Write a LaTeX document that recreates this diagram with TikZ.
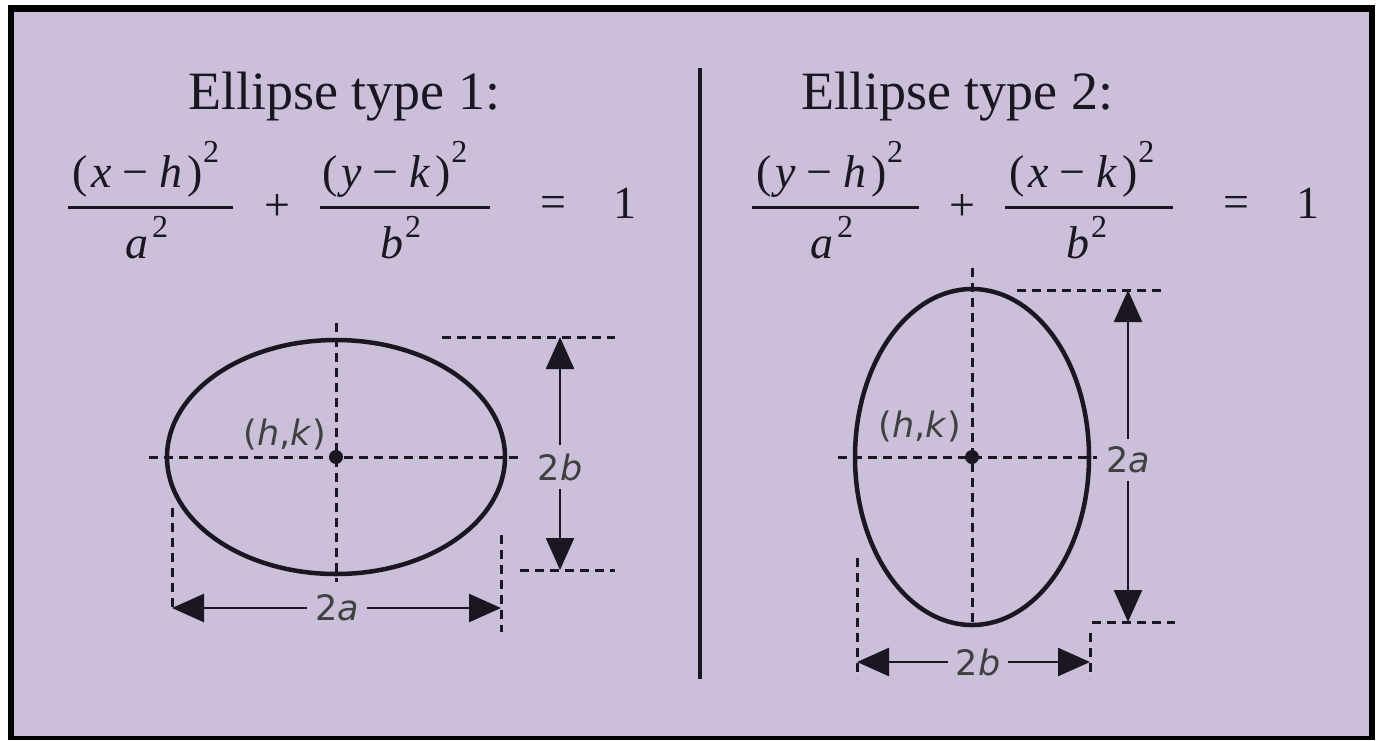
\documentclass[tikz,border=0pt]{standalone}
\usepackage{fontspec}
\setmainfont{Liberation Serif}
\newfontfamily\lblfont{DejaVu Sans}
\usepackage{xcolor}
\usetikzlibrary{arrows.meta, math}
\definecolor{mylav}{RGB}{204,191,217}
\definecolor{myink}{RGB}{28,22,34}

\newcommand{\eqsize}{\fontsize{46}{52}\selectfont}
\newcommand{\suptwo}[1]{\raisebox{#1}{\fontsize{32}{32}\selectfont 2}}
\newcommand{\numer}[2]{(\kern4pt\textit{#1}\kern11pt−\kern11pt\textit{#2}\kern5pt)\suptwo{25pt}}

\begin{document}
\begin{tikzpicture}[x=1pt,y=-1pt,
  title/.style={font=\fontsize{54}{60}\selectfont, text=myink, inner sep=0pt},
  eq/.style={font=\eqsize, text=myink, inner sep=0pt},
  bar/.style={line width=3, myink},
  axis/.style={dash pattern=on 9pt off 6pt, line width=3, myink},
  curve/.style={line width=4.5, myink},
  dim/.style={-{Triangle[length=32pt,width=28pt]}, line width=2.5, myink},
  lbl/.style={font=\lblfont\fontsize{35}{40}\selectfont, text=black!75, inner sep=8pt},
]
\tikzmath{
\ax=336; \ay=457; \ra=169; \rb=117;
\bx=972; \by=457; \rc=117; \rd=168;
}
\useasboundingbox (0,0) rectangle (1378,740);
\fill[white] (0,0) rectangle (1378,740);
\fill[black] (8,5) rectangle (1375,740);
\fill[mylav] (14,12) rectangle (1369,736);

% divider
\draw[line width=4, myink] (700,68) -- (700,679);

% titles
\node[title] (t1) at (344,97) {Ellipse type 1:};
\node[title] (t2) at (957,97) {Ellipse type 2:};

% equation 1
\node[eq, anchor=base west] (n1) at (72,187) {\numer{x}{h}};
\draw[bar] (68,207) -- (233,207);
\node[eq, anchor=base west] (d1) at (125,258) {\textit{a}\kern4pt\suptwo{21pt}};
\node[eq] (p1) at (277,207) {+};
\node[eq, anchor=base west] (n2) at (322,187) {\numer{y}{k}};
\draw[bar] (320,207) -- (490,207);
\node[eq, anchor=base west] (d2) at (380,258) {\textit{b}\kern2pt\suptwo{21pt}};
\node[eq] (e1) at (553,207) {=};
\node[eq] (o1) at (625,203) {1};

% equation 2
\node[eq, anchor=base west] (n3) at (756,187) {\numer{y}{h}};
\draw[bar] (752,207) -- (919,207);
\node[eq, anchor=base west] (d3) at (810,258) {\textit{a}\kern4pt\suptwo{21pt}};
\node[eq] (p2) at (962,207) {+};
\node[eq, anchor=base west] (n4) at (1009,187) {\numer{x}{k}};
\draw[bar] (1005,207) -- (1173,207);
\node[eq, anchor=base west] (d4) at (1066,258) {\textit{b}\kern2pt\suptwo{21pt}};
\node[eq] (e2) at (1236,207) {=};
\node[eq] (o2) at (1308,203) {1};

% ellipse type 1
\coordinate (c1) at (\ax,\ay);
\draw[axis] (149,\ay) -- (520,\ay);
\draw[axis] (\ax,323) -- (\ax,582);
\draw[curve] (c1) ellipse [x radius=\ra, y radius=\rb];
\fill[myink] (c1) circle [radius=7];
\node[lbl, inner sep=0pt] (hk1) at (285,435) {(\textit{h},\textit{k})};

\draw[axis] (442,337) -- (615,337);
\draw[axis] (520,570) -- (615,570);
\coordinate (top2b) at (560,337);
\coordinate (bot2b) at (560,570);
\node[lbl] (l2b) at (560,467) {2\textit{b}};
\draw[dim] (l2b) -- (top2b);
\draw[dim] (l2b) -- (bot2b);

\draw[axis] (172,508) -- (172,612);
\draw[axis] (501,535) -- (501,632);
\coordinate (lft2a) at (172,608);
\coordinate (rgt2a) at (501,608);
\node[lbl] (l2a) at (337,608) {2\textit{a}};
\draw[dim] (l2a) -- (lft2a);
\draw[dim] (l2a) -- (rgt2a);

% ellipse type 2
\coordinate (c2) at (\bx,\by);
\draw[axis] (838,\by) -- (1097,\by);
\draw[axis] (\bx,268) -- (\bx,622);
\draw[curve] (c2) ellipse [x radius=\rc, y radius=\rd];
\fill[myink] (c2) circle [radius=7];
\node[lbl, inner sep=0pt] (hk2) at (920,427) {(\textit{h},\textit{k})};

\draw[axis] (1017,290) -- (1165,290);
\draw[axis] (1092,622) -- (1175,622);
\coordinate (top2a) at (1128,290);
\coordinate (bot2a) at (1128,622);
\node[lbl] (m2a) at (1128,460) {2\textit{a}};
\draw[dim] (m2a) -- (top2a);
\draw[dim] (m2a) -- (bot2a);

\draw[axis] (857,558) -- (857,678);
\draw[axis] (1090,633) -- (1090,678);
\coordinate (lft2b) at (857,662);
\coordinate (rgt2b) at (1090,662);
\node[lbl] (m2b) at (978,662) {2\textit{b}};
\draw[dim] (m2b) -- (lft2b);
\draw[dim] (m2b) -- (rgt2b);
\end{tikzpicture}
\end{document}
